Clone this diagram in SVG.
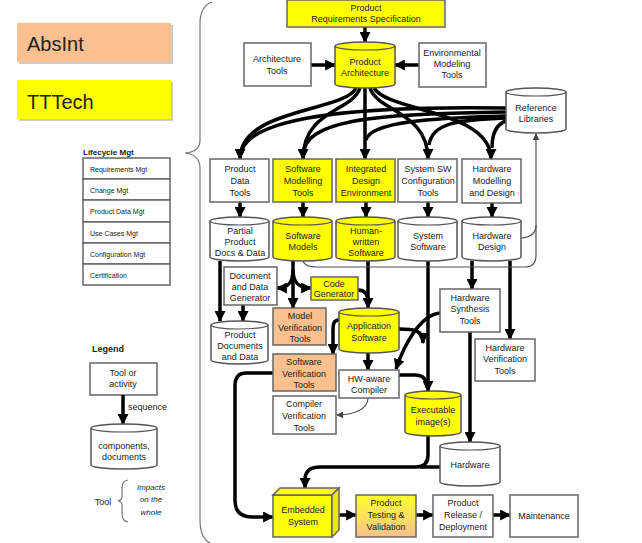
<svg xmlns="http://www.w3.org/2000/svg" width="642" height="543" viewBox="0 0 642 543">
<style>
text{font-family:"Liberation Sans",Arial,sans-serif;font-size:9px;fill:#222;text-anchor:middle}
.box{fill:#fff;stroke:#666;stroke-width:1.5}
.y{fill:#ffff00;stroke:#666;stroke-width:1.5}
.p{fill:#fac090;stroke:#666;stroke-width:1.5}
.cyl{fill:#fff;stroke:#555;stroke-width:1.5}
.cy{fill:#ffff00;stroke:#555;stroke-width:1.5}
.top{fill:none;stroke:#555;stroke-width:1.2}
.c{fill:none;stroke:#000;stroke-width:3.5}
.ca{fill:none;stroke:#000;stroke-width:3.5;marker-end:url(#ah)}
.t{fill:none;stroke:#555;stroke-width:1.2}
.ta{fill:none;stroke:#555;stroke-width:1.2;marker-end:url(#th)}
.brace{fill:none;stroke:#777;stroke-width:1.2}
.s{font-size:7px;text-anchor:start}
</style>
<defs>
<marker id="ah" markerUnits="userSpaceOnUse" markerWidth="11" markerHeight="11" viewBox="0 0 10 10" refX="9" refY="5" orient="auto"><path d="M0,0 L10,5 L0,10 z" fill="#000"/></marker>
<marker id="th" markerUnits="userSpaceOnUse" markerWidth="7" markerHeight="7" viewBox="0 0 10 10" refX="9" refY="5" orient="auto"><path d="M0,0 L10,5 L0,10 z" fill="#444"/></marker>
<linearGradient id="gp" x1="0" y1="0" x2="0" y2="1"><stop offset="0" stop-color="#ffff20"/><stop offset="0.35" stop-color="#fdea50"/><stop offset="1" stop-color="#fac090"/></linearGradient>
</defs>

<g id="brace"><path class="brace" d="M212 2 Q200 6 200 24 L200 140 Q200 152 185 153 Q200 155 200 168 L200 520 Q200 538 210 543"/></g>

<g id="absint"><rect x="19" y="25" width="154" height="39" fill="#ccc"/><rect x="17" y="23" width="154" height="39" fill="#fac090"/><text x="27" y="51" style="font-size:20px;text-anchor:start">AbsInt</text></g>
<g id="tttech"><rect x="19" y="82" width="154" height="39" fill="#ccc"/><rect x="17" y="80" width="154" height="39" fill="#ffff00"/><text x="27" y="109" style="font-size:20px;text-anchor:start">TTTech</text></g>

<g id="lifecycle">
<text x="83" y="155" style="font-size:8px;font-weight:bold;text-anchor:start">Lifecycle Mgt</text>
<rect class="box" x="83" y="158" width="87" height="21"/><text class="s" x="90" y="172">Requirements Mgt</text>
<rect class="box" x="83" y="179" width="87" height="21"/><text class="s" x="90" y="193">Change Mgt</text>
<rect class="box" x="83" y="200" width="87" height="22"/><text class="s" x="90" y="214">Product Data Mgt</text>
<rect class="box" x="83" y="222" width="87" height="21"/><text class="s" x="90" y="236">Use Cases Mgt</text>
<rect class="box" x="83" y="243" width="87" height="21"/><text class="s" x="90" y="257">Configuration Mgt</text>
<rect class="box" x="83" y="264" width="87" height="21"/><text class="s" x="90" y="278">Certification</text>
</g>

<g id="legend">
<text x="92" y="352" style="font-weight:bold;text-anchor:start">Legend</text>
<rect class="box" x="90" y="363" width="67" height="32"/><text x="123" y="376">Tool or</text><text x="123" y="387">activity</text>
<path class="ca" d="M123 395 L123 424"/><text x="128" y="410" style="text-anchor:start">sequence</text>
<path class="cyl" d="M91 428 A33 4 0 0 1 157 428 L157 465 A33 4 0 0 1 91 465 Z"/><path class="top" d="M91 428 A33 4 0 0 0 157 428"/>
<text x="124" y="449">components,</text><text x="124" y="460">documents</text>
<text x="103" y="505">Tool</text>
<path class="brace" d="M128 480 Q122 481 122 488 L122 497 Q122 500 118 501 Q122 502 122 505 L122 514 Q122 521 128 522"/>
<text x="151" y="490" style="font-style:italic;font-size:8px">Impacts</text><text x="151" y="502" style="font-style:italic;font-size:8px">on the</text><text x="151" y="515" style="font-style:italic;font-size:8px">whole</text>
</g>

<g id="connectors">
<path class="ca" d="M365 27 L365 42"/>
<path class="ca" d="M311 65 L335 65"/>
<path class="ca" d="M419 65 L395 65"/>
<path class="ca" d="M356 88 C345 112 240 108 240 159"/>
<path class="ca" d="M360 88 C352 112 303 110 303 159"/>
<path class="ca" d="M365 88 L365 159"/>
<path class="ca" d="M370 88 C378 112 428 112 428 159"/>
<path class="ca" d="M374 88 C388 112 491 110 491 159"/>
<path class="c" d="M506 108 C390 106 255 112 242 150"/>
<path class="c" d="M506 112 C400 114 310 116 304 150"/>
<path class="c" d="M506 116 C430 118 370 122 366 140"/>
<path class="c" d="M506 118 C460 120 432 122 429 145"/>
<path class="c" d="M506 121 C497 124 492 132 492 148"/>
<path class="ca" d="M240 202 L240 217"/>
<path class="ca" d="M303 202 L303 217"/>
<path class="ca" d="M366 202 L366 217"/>
<path class="ca" d="M428 202 L428 217"/>
<path class="ca" d="M492 203 L492 217"/>
<path class="ca" d="M220 261 L220 321"/>
<path class="ca" d="M243 305 L243 321"/>
<path class="ca" d="M293 261 L293 308"/>
<path class="ca" d="M293 270 C293 284 287 288 277 288"/>
<path class="ca" d="M293 270 C293 284 300 288 311 288"/>
<path class="ca" d="M368 261 L368 308"/>
<path class="c" d="M358 290 C365 290 368 294 368 302"/>
<path class="ca" d="M339 320 C333 320 333 325 333 332 L333 354"/>
<path class="ca" d="M368 353 L368 370"/>
<path class="ta" d="M368 398 C368 410 352 415 337 415"/>
<path class="ca" d="M273 373 L246 373 Q235 373 235 386 L235 500 Q235 517 252 517 L273 517"/>
<path class="ca" d="M428 261 L428 391"/>
<path class="ca" d="M399 329 C414 329 423 330 423 343"/>
<path class="ca" d="M440 313 C420 315 404 345 396 369"/>
<path class="c" d="M399 375 L415 375 Q427 375 427 388"/>
<path class="ca" d="M472 261 L472 289"/>
<path class="ca" d="M510 261 L510 339"/>
<path class="ca" d="M470 332 L470 442"/>
<path class="ca" d="M428 436 L428 455 Q428 467 416 467 L320 467 Q305 467 305 480 L305 488"/>
<path class="c" d="M440 467 L420 467"/>
<path class="ca" d="M339 515 L356 515"/>
<path class="ca" d="M416 515 L433 515"/>
<path class="ca" d="M493 515 L510 515"/>
<path class="ta" d="M303 261 Q305 267 316 267 L525 267 Q536 267 536 255 L536 134"/>
<path class="t" d="M521 238 Q536 237 536 225"/>
</g>

<g id="prs"><rect class="y" x="287" y="0" width="158" height="27"/><text x="366" y="11">Product</text><text x="366" y="22">Requirements Specification</text></g>
<g id="arch-tools"><rect class="box" x="244" y="43" width="67" height="43"/><text x="277" y="62">Architecture</text><text x="277" y="74">Tools</text></g>
<g id="prod-arch"><path class="cy" d="M335 46 A30 4 0 0 1 395 46 L395 84 A30 4 0 0 1 335 84 Z"/><path class="top" d="M335 46 A30 4 0 0 0 395 46"/><text x="365" y="65">Product</text><text x="365" y="76">Architecture</text></g>
<g id="env-tools"><rect class="box" x="419" y="43" width="67" height="44"/><text x="452" y="56">Environmental</text><text x="452" y="67">Modeling</text><text x="452" y="78">Tools</text></g>
<g id="ref-lib"><path class="cyl" d="M506 92 A30 4 0 0 1 566 92 L566 129 A30 4 0 0 1 506 129 Z"/><path class="top" d="M506 92 A30 4 0 0 0 566 92"/><text x="536" y="111">Reference</text><text x="536" y="122">Libraries</text></g>

<g id="pd-tools"><rect class="box" x="210" y="159" width="59" height="43"/><text x="240" y="172">Product</text><text x="240" y="184">Data</text><text x="240" y="196">Tools</text></g>
<g id="swm-tools"><rect class="y" x="273" y="159" width="59" height="43"/><text x="303" y="172">Software</text><text x="303" y="184">Modelling</text><text x="303" y="196">Tools</text></g>
<g id="ide"><rect class="y" x="336" y="159" width="59" height="43"/><text x="366" y="172">Integrated</text><text x="366" y="184">Design</text><text x="366" y="196">Environment</text></g>
<g id="sysconf"><rect class="box" x="398" y="159" width="59" height="43"/><text x="428" y="172">System SW</text><text x="428" y="184">Configuration</text><text x="428" y="196">Tools</text></g>
<g id="hwmod"><rect class="box" x="462" y="159" width="59" height="44"/><text x="492" y="172">Hardware</text><text x="492" y="184">Modelling</text><text x="492" y="196">and Design</text></g>

<g id="partial"><path class="cyl" d="M210 221 A29.5 4 0 0 1 269 221 L269 257 A29.5 4 0 0 1 210 257 Z"/><path class="top" d="M210 221 A29.5 4 0 0 0 269 221"/><text x="240" y="234">Partial</text><text x="240" y="245">Product</text><text x="240" y="256">Docs &amp; Data</text></g>
<g id="swmodels"><path class="cy" d="M273 221 A29.5 4 0 0 1 332 221 L332 257 A29.5 4 0 0 1 273 257 Z"/><path class="top" d="M273 221 A29.5 4 0 0 0 332 221"/><text x="303" y="239">Software</text><text x="303" y="250">Models</text></g>
<g id="human-sw"><path class="cy" d="M336 221 A29.5 4 0 0 1 395 221 L395 257 A29.5 4 0 0 1 336 257 Z"/><path class="top" d="M336 221 A29.5 4 0 0 0 395 221"/><text x="366" y="234">Human-</text><text x="366" y="245">written</text><text x="366" y="256">Software</text></g>
<g id="syssw"><path class="cyl" d="M398 221 A29.5 4 0 0 1 457 221 L457 257 A29.5 4 0 0 1 398 257 Z"/><path class="top" d="M398 221 A29.5 4 0 0 0 457 221"/><text x="428" y="239">System</text><text x="428" y="250">Software</text></g>
<g id="hwdesign"><path class="cyl" d="M462 221 A29.5 4 0 0 1 521 221 L521 257 A29.5 4 0 0 1 462 257 Z"/><path class="top" d="M462 221 A29.5 4 0 0 0 521 221"/><text x="492" y="239">Hardware</text><text x="492" y="250">Design</text></g>

<g id="ddg"><rect class="box" x="224" y="267" width="53" height="38"/><text x="250" y="279">Document</text><text x="250" y="290">and Data</text><text x="250" y="301">Generator</text></g>
<g id="codegen"><rect class="y" x="311" y="277" width="47" height="23"/><text x="334" y="287">Code</text><text x="334" y="297">Generator</text></g>
<g id="proddocs"><path class="cyl" d="M211 325 A28.5 4 0 0 1 268 325 L268 360 A28.5 4 0 0 1 211 360 Z"/><path class="top" d="M211 325 A28.5 4 0 0 0 268 325"/><text x="240" y="338">Product</text><text x="240" y="349">Documents</text><text x="240" y="360">and Data</text></g>
<g id="mvt"><rect class="p" x="273" y="308" width="53" height="37"/><text x="300" y="319">Model</text><text x="300" y="331">Verification</text><text x="300" y="342">Tools</text></g>
<g id="svt"><rect class="p" x="273" y="354" width="63" height="37"/><text x="304" y="365">Software</text><text x="304" y="377">Verification</text><text x="304" y="388">Tools</text></g>
<g id="cvt"><rect class="box" x="273" y="396" width="63" height="38"/><text x="304" y="407">Compiler</text><text x="304" y="419">Verification</text><text x="304" y="431">Tools</text></g>
<g id="appsw"><path class="cy" d="M339 312 A30 4 0 0 1 399 312 L399 349 A30 4 0 0 1 339 349 Z"/><path class="top" d="M339 312 A30 4 0 0 0 399 312"/><text x="369" y="329">Application</text><text x="369" y="341">Software</text></g>
<g id="hwc"><rect class="box" x="339" y="370" width="60" height="28"/><text x="369" y="382">HW-aware</text><text x="369" y="393">Compiler</text></g>
<g id="hst"><rect class="box" x="440" y="289" width="60" height="43"/><text x="470" y="301">Hardware</text><text x="470" y="312">Synthesis</text><text x="470" y="324">Tools</text></g>
<g id="hvt"><rect class="box" x="475" y="339" width="60" height="42"/><text x="505" y="351">Hardware</text><text x="505" y="362">Verification</text><text x="505" y="374">Tools</text></g>
<g id="exe"><path class="cy" d="M405 395 A28 4 0 0 1 461 395 L461 432 A28 4 0 0 1 405 432 Z"/><path class="top" d="M405 395 A28 4 0 0 0 461 395"/><text x="433" y="413">Executable</text><text x="433" y="425">image(s)</text></g>
<g id="hardware"><path class="cyl" d="M440 446 A30 4 0 0 1 500 446 L500 482 A30 4 0 0 1 440 482 Z"/><path class="top" d="M440 446 A30 4 0 0 0 500 446"/><text x="470" y="468">Hardware</text></g>

<g id="embedded"><rect class="y" x="273" y="495" width="59" height="42"/><path class="y" d="M273 495 L280 488 L339 488 L332 495 Z"/><path d="M332 495 L339 488 L339 530 L332 537 Z" fill="#eaea00" stroke="#666" stroke-width="1.5"/><text x="303" y="513">Embedded</text><text x="303" y="525">System</text></g>
<g id="ptv"><rect x="356" y="495" width="60" height="42" fill="url(#gp)" stroke="#666" stroke-width="1.5"/><text x="386" y="506">Product</text><text x="386" y="518">Testing &amp;</text><text x="386" y="530">Validation</text></g>
<g id="release"><rect class="box" x="433" y="495" width="60" height="42"/><text x="463" y="506">Product</text><text x="463" y="518">Release /</text><text x="463" y="530">Deployment</text></g>
<g id="maint"><rect class="box" x="510" y="495" width="68" height="42"/><text x="544" y="519">Maintenance</text></g>
</svg>
